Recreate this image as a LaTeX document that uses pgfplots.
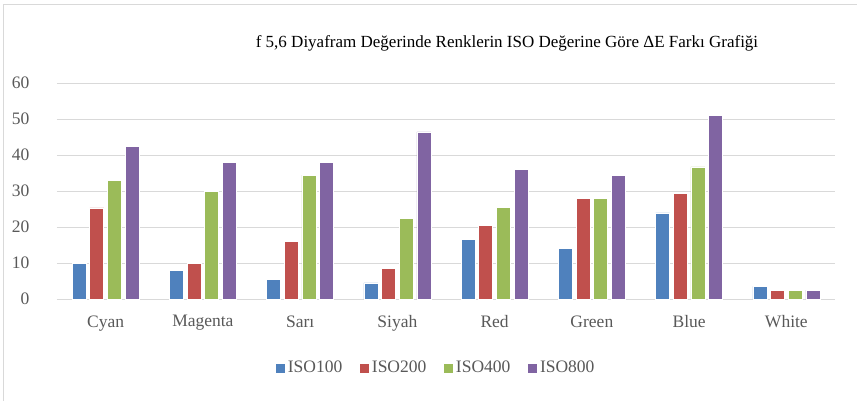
\documentclass[border=0pt]{standalone}
\usepackage{fontspec}
\setmainfont{Liberation Serif}
\usepackage{pgfplots}
\pgfplotsset{compat=1.18}
\definecolor{cA}{HTML}{4F81BD}
\definecolor{cB}{HTML}{C0504D}
\definecolor{cC}{HTML}{9BBB59}
\definecolor{cD}{HTML}{8064A2}
\definecolor{gridc}{HTML}{D9D9D9}
\definecolor{txt}{HTML}{595959}
\begin{document}
\begin{tikzpicture}[x=1pt,y=1pt]
\useasboundingbox (0,0) rectangle (857,400);
\draw[gridc,line width=1pt] (3,-10) -- (3,395) -- (870,395);
\node[font=\fontsize{17}{20}\selectfont, text=black] at (507,357) {f 5,6 Diyafram Değerinde Renklerin ISO Değerine Göre ΔE Farkı Grafiği};
\begin{axis}[
  at={(57pt,101pt)}, anchor=south west,
  scale only axis, width=778pt, height=216pt,
  ymin=0, ymax=60, ytick={0,10,...,60},
  xmin=-0.5, xmax=7.5,
  xtick={0,...,7},
  xticklabels={Cyan,Magenta,Sarı,Siyah,Red,Green,Blue,White},
  ybar=3.7pt, bar width=14pt,
  axis x line*=bottom, axis y line*=left,
  x axis line style={gridc, line width=1pt, -},
  y axis line style={draw=none},
  ymajorgrids, grid style={gridc, line width=1pt},
  major tick length=0pt,
  tick label style={font=\fontsize{17.5}{20}\selectfont, text=txt},
  /pgf/number format/assume math mode=true,
  yticklabel style={anchor=east, xshift=-24pt},
  xticklabel style={yshift=-13pt},
  legend style={at={(0.487,-0.319)}, anchor=center, draw=none, legend columns=4,
    font=\fontsize{17.5}{20}\selectfont, text=txt,
    /tikz/every even column/.append style={column sep=15pt}},
  legend image code/.code={\fill[#1] (0pt,-5pt) rectangle (10pt,5pt);},
  every axis plot/.append style={draw=white, line width=0.6pt},
  clip=false,
]
\addplot[fill=cA] coordinates {(0,10) (1,8) (2,5.5) (3,4.5) (4,16.6) (5,14) (6,23.9) (7,3.5)};
\addplot[fill=cB] coordinates {(0,25.3) (1,9.9) (2,15.9) (3,8.6) (4,20.5) (5,28) (6,29.4) (7,2.5)};
\addplot[fill=cC] coordinates {(0,32.9) (1,29.9) (2,34.4) (3,22.4) (4,25.5) (5,28) (6,36.7) (7,2.5)};
\addplot[fill=cD] coordinates {(0,42.3) (1,38) (2,38) (3,46.4) (4,35.9) (5,34.4) (6,50.9) (7,2.5)};
\legend{ISO100,ISO200,ISO400,ISO800}
\end{axis}
\end{tikzpicture}
\end{document}
